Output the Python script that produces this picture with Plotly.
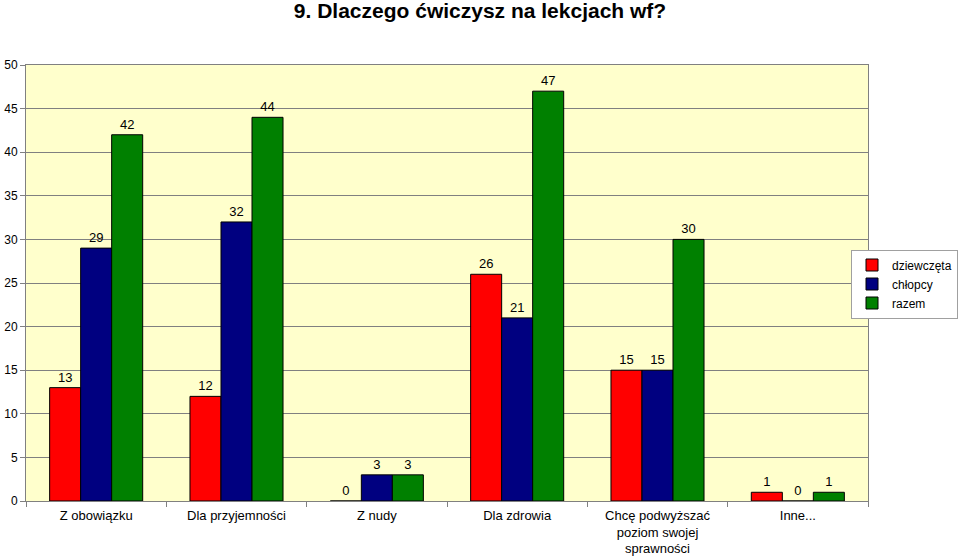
import plotly.graph_objects as go

categories = ["Z obowiązku", "Dla przyjemności", "Z nudy", "Dla zdrowia",
              "Chcę podwyższać<br>poziom swojej<br>sprawności", "Inne..."]
dziewczeta = [13, 12, 0, 26, 15, 1]
chlopcy = [29, 32, 3, 21, 15, 0]
razem = [42, 44, 3, 47, 30, 1]
y_ticks = [0, 5, 10, 15, 20, 25, 30, 35, 40, 45, 50]

fig = go.Figure()
for name, vals, col in [("dziewczęta", dziewczeta, "#FF0000"),
                        ("chłopcy", chlopcy, "#000080"),
                        ("razem", razem, "#008000")]:
    fig.add_trace(go.Bar(
        x=categories, y=vals, name=name, marker_color=col,
        marker_line=dict(color="#000000", width=1),
        text=[str(v) for v in vals], textposition="outside",
        textfont=dict(family="Arial", size=13, color="#000000"),
        cliponaxis=False,
    ))

fig.update_layout(
    width=960, height=556,
    margin=dict(l=26, r=92, t=65, b=55, autoexpand=False),
    title=dict(text="<b>9. Dlaczego ćwiczysz na lekcjach wf?</b>",
               x=0.5, xanchor="center", y=1 - 3 / 556, yanchor="top",
               font=dict(family="Arial", size=21, color="#000000")),
    paper_bgcolor="#FFFFFF",
    plot_bgcolor="#FFFFCC",
    barmode="group",
    bargap=0.337, bargroupgap=0,
    font=dict(family="Arial", size=13, color="#000000"),
    showlegend=True,
    legend=dict(xref="container", yref="container",
                x=958 / 960, xanchor="right", y=1 - 284 / 556, yanchor="middle",
                bordercolor="#A0A0A0", borderwidth=1, bgcolor="#FFFFFF",
                font=dict(family="Arial", size=12, color="#000000"),
                itemwidth=30, tracegroupgap=0),
)
fig.update_xaxes(
    automargin=False,
    showline=True, linecolor="#808080", linewidth=1, mirror=True,
    ticks="outside", tickson="boundaries", ticklen=5, tickcolor="#808080",
    ticklabelstandoff=2,
    tickfont=dict(family="Arial", size=13, color="#000000"),
    showgrid=False,
)
fig.update_yaxes(
    automargin=False,
    range=[0, 50], tickvals=y_ticks, ticks="outside", ticklen=5, tickcolor="#808080",
    ticklabelstandoff=0,
    showline=True, linecolor="#808080", linewidth=1, mirror=True,
    showgrid=True, gridcolor="#808080", gridwidth=1,
    tickfont=dict(family="Arial", size=12, color="#000000"),
    zeroline=False,
)
fig.write_html("out.html", config={"displayModeBar": False},
               post_script="document.body.style.margin='0';")
